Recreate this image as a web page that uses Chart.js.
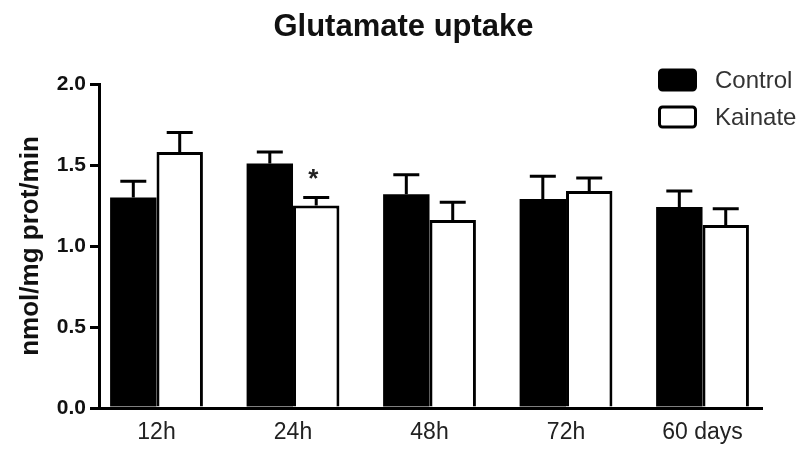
<!DOCTYPE html>
<html>
<head>
<meta charset="utf-8">
<script src="https://cdn.jsdelivr.net/npm/chart.js@4.4.1/dist/chart.umd.min.js"></script>
<style>
  html, body { margin: 0; padding: 0; background: #fff; }
  #wrap { width: 807px; height: 451px; }
</style>
</head>
<body>
<div id="wrap"><canvas id="chart" width="807" height="451"></canvas></div>
<script>
const categories = ["12h", "24h", "48h", "72h", "60 days"];
const controlValues = [1.30, 1.51, 1.32, 1.29, 1.24];
const controlErrors = [0.10, 0.07, 0.12, 0.14, 0.10];
const kainateValues = [1.58, 1.25, 1.16, 1.34, 1.13];
const kainateErrors = [0.12, 0.05, 0.11, 0.08, 0.10];
const kainateMarks = ["", "*", "", "", ""];
const yTicks = [0, 0.5, 1.0, 1.5, 2.0];
const chartTitle = "Glutamate uptake";

const FONT = "'Liberation Sans', Arial, Helvetica, sans-serif";

// error bars + significance star, drawn on top of the bars
const errorBars = {
    id: "errorBars",
    afterDatasetsDraw(chart) {
        const ctx = chart.ctx;
        const y = chart.scales.y;
        chart.data.datasets.forEach((ds, di) => {
            const meta = chart.getDatasetMeta(di);
            meta.data.forEach((bar, i) => {
                const top = y.getPixelForValue(ds.data[i] + ds.errors[i]);
                ctx.save();
                ctx.strokeStyle = "#000";
                ctx.lineWidth = 3;
                ctx.beginPath();
                ctx.moveTo(bar.x, bar.y);
                ctx.lineTo(bar.x, top);
                ctx.moveTo(bar.x - 13, top);
                ctx.lineTo(bar.x + 13, top);
                ctx.stroke();
                if (ds.marks && ds.marks[i]) {
                    ctx.fillStyle = "#222";
                    ctx.font = "bold 26px " + FONT;
                    ctx.textAlign = "center";
                    ctx.textBaseline = "alphabetic";
                    ctx.fillText(ds.marks[i], bar.x - 3, top - 10);
                }
                ctx.restore();
            });
        });
    }
};

// title centred on the whole picture, legend in the top right corner
const titleAndLegend = {
    id: "titleAndLegend",
    afterDraw(chart) {
        const ctx = chart.ctx;
        const area = chart.chartArea;

        ctx.save();
        ctx.fillStyle = "#111";
        ctx.font = "bold 31px " + FONT;
        ctx.textAlign = "center";
        ctx.textBaseline = "middle";
        ctx.fillText(chartTitle, chart.width / 2, 27);
        ctx.restore();

        const x0 = area.right - 104;
        chart.data.datasets.forEach((ds, i) => {
            const cy = area.top - 4 + i * 37;
            ctx.save();
            ctx.fillStyle = ds.backgroundColor;
            ctx.strokeStyle = "#000";
            ctx.lineWidth = 3;
            ctx.beginPath();
            ctx.roundRect(x0 + 1.5, cy - 10, 36, 20, 3);
            ctx.fill();
            ctx.stroke();
            ctx.fillStyle = "#333";
            ctx.font = "24px " + FONT;
            ctx.textAlign = "left";
            ctx.textBaseline = "middle";
            ctx.fillText(ds.label, x0 + 57, cy + 1);
            ctx.restore();
        });
    }
};

new Chart(document.getElementById("chart"), {
    type: "bar",
    data: {
        labels: categories,
        datasets: [
            {
                label: "Control",
                data: controlValues,
                errors: controlErrors,
                backgroundColor: "#000",
                borderColor: "#000",
                borderWidth: 0
            },
            {
                label: "Kainate",
                data: kainateValues,
                errors: kainateErrors,
                marks: kainateMarks,
                backgroundColor: "#fff",
                borderColor: "#000",
                borderWidth: 3
            }
        ]
    },
    options: {
        responsive: false,
        animation: false,
        datasets: { bar: { categoryPercentage: 0.68, barPercentage: 1.0 } },
        layout: { padding: { left: 0, right: 45, top: 84, bottom: 0 } },
        plugins: {
            legend: { display: false },
            tooltip: { enabled: false },
            title: { display: false }
        },
        scales: {
            x: {
                grid: { display: false },
                border: { display: true, color: "#000", width: 3 },
                ticks: {
                    color: "#222",
                    font: { family: FONT, size: 23 },
                    padding: 3,
                    maxRotation: 0,
                    autoSkip: false
                },
                afterFit(scale) { scale.height = 43; },
                afterBuildTicks(scale) {
                    // groups sit a little inside the axis ends
                    scale._startValue = -0.4213;
                    scale._valueRange = 4.857;
                }
            },
            y: {
                min: 0,
                max: 2,
                afterBuildTicks(scale) {
                    scale.ticks = yTicks.map(v => ({ value: v }));
                },
                grid: {
                    drawOnChartArea: false,
                    drawTicks: true,
                    tickLength: 9,
                    color: "#000",
                    lineWidth: 3
                },
                border: { display: true, color: "#000", width: 3 },
                ticks: {
                    color: "#111",
                    font: { family: FONT, size: 21, weight: "bold" },
                    padding: 4,
                    callback: v => Number(v).toFixed(1)
                },
                title: {
                    display: true,
                    text: "nmol/mg prot/min",
                    color: "#111",
                    font: { family: FONT, size: 26, weight: "bold" },
                    padding: { top: 15, bottom: 0 }
                },
                afterFit(scale) { scale.width = 99; }
            }
        }
    },
    plugins: [errorBars, titleAndLegend]
});
</script>
</body>
</html>
